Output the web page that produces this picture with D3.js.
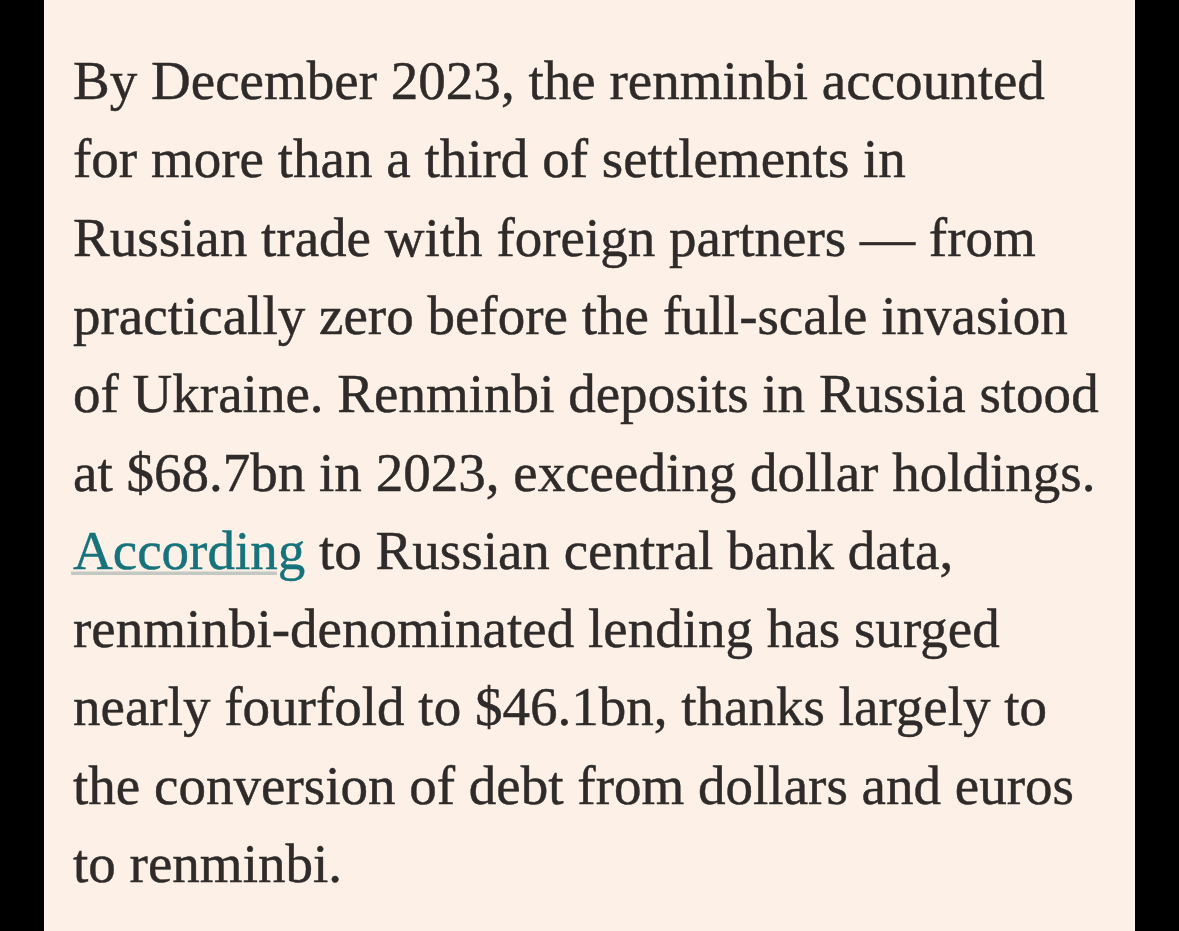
<!DOCTYPE html>
<html>
<head>
<meta charset="utf-8">
<script src="https://cdn.jsdelivr.net/npm/d3@7"></script>
<style>
  html, body { margin: 0; padding: 0; background: #000; }
  svg { display: block; }
</style>
</head>
<body>
<div id="wrapper"></div>
<script>
// Paragraph text, one entry per rendered line
const lines = [
    "By December 2023, the renminbi accounted",
    "for more than a third of settlements in",
    "Russian trade with foreign partners \u2014 from",
    "practically zero before the full-scale invasion",
    "of Ukraine. Renminbi deposits in Russia stood",
    "at $68.7bn in 2023, exceeding dollar holdings.",
    "According to Russian central bank data,",
    "renminbi-denominated lending has surged",
    "nearly fourfold to $46.1bn, thanks largely to",
    "the conversion of debt from dollars and euros",
    "to renminbi.",
]
const linkWord = "According"

function drawText() {
    let dimensions = {
        width: 1179,
        height: 931,
        panel: { left: 44, right: 1135 },
        text: { left: 73, right: 1099, firstBaseline: 99, lastBaseline: 882 },
    }

    const colors = {
        frame: "#000000",
        paper: "#fdf0e6",
        ink: "#2f2b2a",
        link: "#16737c",
        linkLine: "#c4c8c2",
    }

    const svg = d3.select("#wrapper")
        .append("svg")
            .attr("width", dimensions.width)
            .attr("height", dimensions.height)

    svg.append("rect")
        .attr("width", dimensions.width)
        .attr("height", dimensions.height)
        .attr("fill", colors.frame)

    svg.append("rect")
        .attr("x", dimensions.panel.left)
        .attr("width", dimensions.panel.right - dimensions.panel.left)
        .attr("height", dimensions.height)
        .attr("fill", colors.paper)

    // baseline of each line
    const yScale = d3.scaleLinear()
        .domain([0, lines.length - 1])
        .range([dimensions.text.firstBaseline, dimensions.text.lastBaseline])

    const fontFamily = "'Liberation Serif', 'Times New Roman', serif"

    // measure at a trial size, then fit the widest line to the column
    const probe = svg.append("text")
        .attr("font-family", fontFamily)
        .attr("font-size", 100)
    const widest = d3.max(lines, l => probe.text(l).node().getComputedTextLength())
    probe.remove()
    const fontSize = 100 * (dimensions.text.right - dimensions.text.left) / widest

    // underline sits behind the text, drawn first
    const underline = svg.append("g")

    const texts = svg.append("g")
        .attr("font-family", fontFamily)
        .attr("font-size", fontSize)
        .attr("fill", colors.ink)
        .attr("stroke", colors.ink)
        .attr("stroke-width", 0.45)
        .selectAll("text")
        .data(lines)
        .join("text")
            .attr("x", dimensions.text.left)
            .attr("y", (d, i) => yScale(i))

    texts.each(function(d) {
        const t = d3.select(this)
        if (d.startsWith(linkWord)) {
            t.append("tspan")
                .attr("fill", colors.link)
                .attr("stroke", colors.link)
                .text(linkWord)
            t.append("tspan").text(d.slice(linkWord.length))
        } else {
            t.text(d)
        }
    })

    // underline stops before the descender of the final "g"
    texts.filter(d => d.startsWith(linkWord)).each(function(d) {
        const span = d3.select(this).select("tspan").node()
        const w = span.getSubStringLength(0, linkWord.length - 1)
        const y = +d3.select(this).attr("y") + 4.5
        underline.append("line")
            .attr("x1", dimensions.text.left - 2)
            .attr("x2", dimensions.text.left + w - 1)
            .attr("y1", y)
            .attr("y2", y)
            .attr("stroke", colors.linkLine)
            .attr("stroke-width", 3.5)
    })
}

drawText()
</script>
</body>
</html>
